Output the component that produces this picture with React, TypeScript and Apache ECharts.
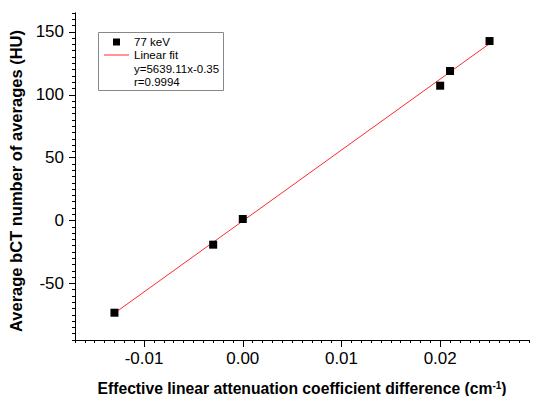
import React, { useEffect, useRef } from "react";
import * as echarts from "echarts";

// Measured data (77 keV)
const xValues = [-0.013, -0.003, 0.0, 0.02, 0.021, 0.025];
const yValues = [-73.3, -19.2, 1.2, 107.2, 118.9, 142.7];

// Linear fit (from legend)
const fitSlope = 5639.11;
const fitIntercept = -0.35;
const fitXRange = [-0.013, 0.025];

// Axis ticks / labels
const xMajorTicks = [-0.01, 0.0, 0.01, 0.02];
const yMajorTicks = [-50, 0, 50, 100, 150];
const xRange = [-0.017, 0.029];
const yRange = [-95, 165];

const seriesName = "77 keV";
const fitName = "Linear fit";
const fitEquation = "y=5639.11x-0.35";
const fitR = "r=0.9994";

const FONT = '"Liberation Sans", Arial, sans-serif';

export default function App() {
  const ref = useRef<HTMLDivElement>(null);
  useEffect(() => {
    if (!ref.current) return;
    const chart = echarts.init(ref.current, null, { renderer: "svg" });
    const points = xValues.map((x, i) => [x, yValues[i]]);
    const fitPoints = fitXRange.map((x) => [x, fitSlope * x + fitIntercept]);
    chart.setOption({
      animation: false,
      backgroundColor: "#fff",
      grid: {
        left: 75,
        right: 5,
        top: 13,
        bottom: 56,
        containLabel: false,
        outerBoundsMode: "none",
      },
      xAxis: [
        {
          type: "value",
          min: xRange[0],
          max: xRange[1],
          interval: 0.001,
          position: "bottom",
          axisLine: { show: true, onZero: false, lineStyle: { color: "#000", width: 1 } },
          axisTick: {
            show: true,
            customValues: xMajorTicks,
            length: 7,
            lineStyle: { color: "#000" },
          },
          axisLabel: {
            customValues: xMajorTicks,
            formatter: (v: number) => v.toFixed(2),
            color: "#000",
            fontSize: 17,
            fontFamily: FONT,
            margin: 10,
          },
          splitLine: { show: false },
          name: "Effective linear attenuation coefficient difference (cm{sup|-1})",
          nameLocation: "middle",
          nameGap: 40,
          nameTextStyle: {
            color: "#000",
            fontSize: 15.7,
            fontWeight: "bold",
            fontFamily: FONT,
            rich: {
              sup: {
                fontSize: 10,
                fontWeight: "bold",
                fontFamily: FONT,
                color: "#000",
                verticalAlign: "top",
                lineHeight: 10,
                padding: [0, 0, 8, 0],
              },
            },
          },
        },
        {
          type: "value",
          min: xRange[0],
          max: xRange[1],
          interval: 0.001,
          position: "bottom",
          axisLine: { show: true, onZero: false, lineStyle: { color: "#000", width: 1 } },
          axisTick: { show: true, length: 3, lineStyle: { color: "#000" } },
          axisLabel: { show: false },
          splitLine: { show: false },
        },
      ],
      yAxis: [
        {
          type: "value",
          min: yRange[0],
          max: yRange[1],
          interval: 5,
          position: "left",
          axisLine: { show: true, onZero: false, lineStyle: { color: "#000", width: 1 } },
          axisTick: {
            show: true,
            customValues: yMajorTicks,
            length: 6,
            lineStyle: { color: "#000" },
          },
          axisLabel: {
            customValues: yMajorTicks,
            color: "#000",
            fontSize: 17,
            fontFamily: FONT,
            margin: 11,
          },
          splitLine: { show: false },
          name: "Average bCT number of averages (HU)",
          nameLocation: "middle",
          nameGap: 43,
          nameTextStyle: {
            color: "#000",
            fontSize: 16.5,
            fontWeight: "bold",
            fontFamily: FONT,
            padding: [0, 9, 0, 0],
          },
        },
        {
          type: "value",
          min: yRange[0],
          max: yRange[1],
          interval: 5,
          position: "left",
          axisLine: { show: true, onZero: false, lineStyle: { color: "#000", width: 1 } },
          axisTick: { show: true, length: 3, lineStyle: { color: "#000" } },
          axisLabel: { show: false },
          splitLine: { show: false },
        },
      ],
      legend: {
        orient: "vertical",
        left: 104,
        top: 35.5,
        padding: 0,
        itemGap: 0,
        itemWidth: 25,
        itemHeight: 7,
        selectedMode: false,
        z: 10,
        textStyle: {
          color: "#000",
          fontSize: 11.5,
          fontFamily: FONT,
          lineHeight: 13,
        },
        data: [
          { name: seriesName, icon: "path://M0,0L10,0L10,10L0,10Z" },
          { name: fitName, icon: "path://M0,0L25,0L25,1L0,1Z" },
        ],
      },
      graphic: [
        {
          type: "rect",
          left: 98,
          top: 32,
          z: 5,
          shape: { width: 125, height: 58 },
          style: { fill: "#fff", stroke: "#888", lineWidth: 1 },
        },
        {
          type: "text",
          x: 134,
          y: 69,
          z: 11,
          style: {
            text: fitEquation,
            font: `11.5px ${FONT}`,
            fill: "#000",
            verticalAlign: "middle",
          },
        },
        {
          type: "text",
          x: 134,
          y: 82,
          z: 11,
          style: {
            text: fitR,
            font: `11.5px ${FONT}`,
            fill: "#000",
            verticalAlign: "middle",
          },
        },
      ],
      series: [
        {
          name: fitName,
          type: "line",
          data: fitPoints,
          showSymbol: false,
          symbol: "none",
          lineStyle: { color: "#ff2a2a", width: 1 },
          itemStyle: { color: "#ff2a2a" },
          z: 2,
        },
        {
          name: seriesName,
          type: "scatter",
          data: points,
          symbol: "rect",
          symbolSize: 8,
          itemStyle: { color: "#000", opacity: 1 },
          z: 3,
        },
      ],
    });
    return () => chart.dispose();
  }, []);
  return (
    <div
      ref={ref}
      style={{ position: "fixed", left: 0, top: 0, width: 534, height: 396 }}
    />
  );
}
